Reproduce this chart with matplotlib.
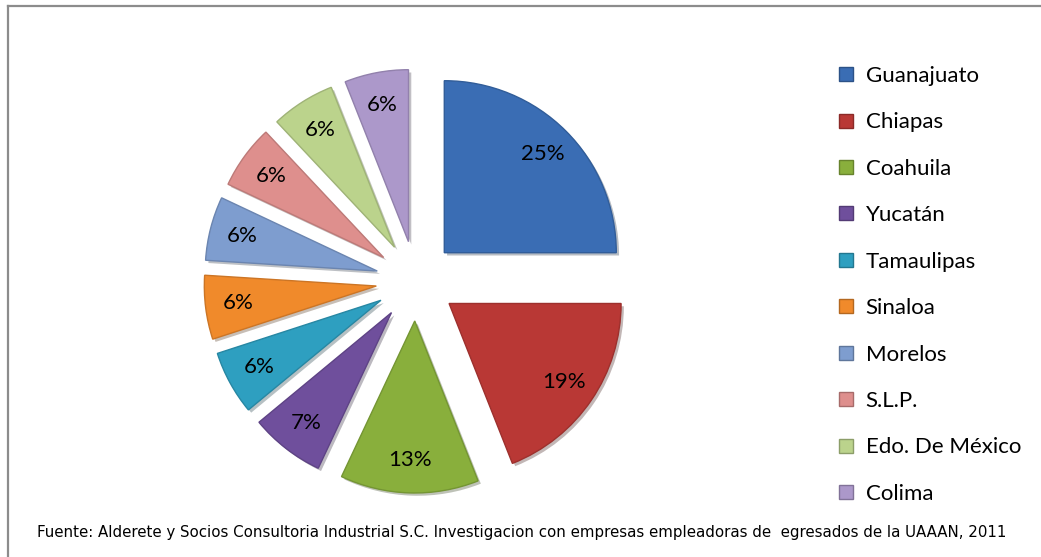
import matplotlib
matplotlib.use("Agg")
import matplotlib.pyplot as plt
import matplotlib.patheffects as pe
from matplotlib.lines import Line2D

# data
estados = ["Guanajuato", "Chiapas", "Coahuila", "Yucatán", "Tamaulipas",
           "Sinaloa", "Morelos", "S.L.P.", "Edo. De México", "Colima"]
porcentajes = [25, 19, 13, 7, 6, 6, 6, 6, 6, 6]
colores = ["#3A6DB4", "#B93835", "#89AF3C", "#6F4F9C", "#2E9FC0",
           "#F08A2B", "#7E9DCF", "#DE8F8D", "#BBD38C", "#AC98CA"]
fuente = ("Fuente: Alderete y Socios Consultoria Industrial S.C. Investigacion "
          "con empresas empleadoras de  egresados de la UAAAN, 2011")

W, H = 1041, 557
plt.rcParams['font.family'] = ['Lato', 'DejaVu Sans']

fig = plt.figure(figsize=(W / 100, H / 100), dpi=100)
ax = fig.add_axes([0, 0, 1, 1])

def darker(c, f=0.8):
    r, g, b = matplotlib.colors.to_rgb(c)
    return (r * f, g * f, b * f)

# axes units are pixels, so explode is an offset in pixels
wedges, texts, autotexts = ax.pie(
    porcentajes,
    colors=colores,
    startangle=90,
    counterclock=False,
    explode=[40] * len(porcentajes),
    center=(416, H - 281),
    radius=172,
    autopct=lambda p: "%.0f%%" % p,
    pctdistance=0.81,
    textprops={"fontsize": 16, "color": "black"},
    wedgeprops={"linewidth": 1.0},
)
for w, c in zip(wedges, colores):
    w.set_edgecolor(darker(c, 0.85))
    w.set_path_effects([pe.SimplePatchShadow(offset=(2, -2), alpha=0.3),
                        pe.Normal()])

ax.set_xlim(0, W)
ax.set_ylim(0, H)
ax.set_aspect("equal")
ax.axis("off")

# legend
handles = [Line2D([], [], marker="s", linestyle="none", markersize=10,
                  markerfacecolor=c, markeredgecolor=darker(c, 0.75))
           for c in colores]
fig.legend(handles, estados, loc="upper left",
           bbox_to_anchor=(828 / W, 1 - 57 / H), frameon=False,
           fontsize=16, labelspacing=1.19, handlelength=0.8,
           handletextpad=0.5, borderaxespad=0)

# outer frame (left and top edges visible)
fig.add_artist(Line2D([8 / W, 8 / W], [0, 1 - 6 / H], transform=fig.transFigure,
                      color="#8c8c8c", linewidth=1.6))
fig.add_artist(Line2D([8 / W, 1], [1 - 6 / H, 1 - 6 / H], transform=fig.transFigure,
                      color="#8c8c8c", linewidth=1.6))

fig.text(37 / W, 1 - 533 / H, fuente, fontsize=10.8, va="center", ha="left",
         family='DejaVu Sans')

fig.savefig("out.png", dpi=100)
